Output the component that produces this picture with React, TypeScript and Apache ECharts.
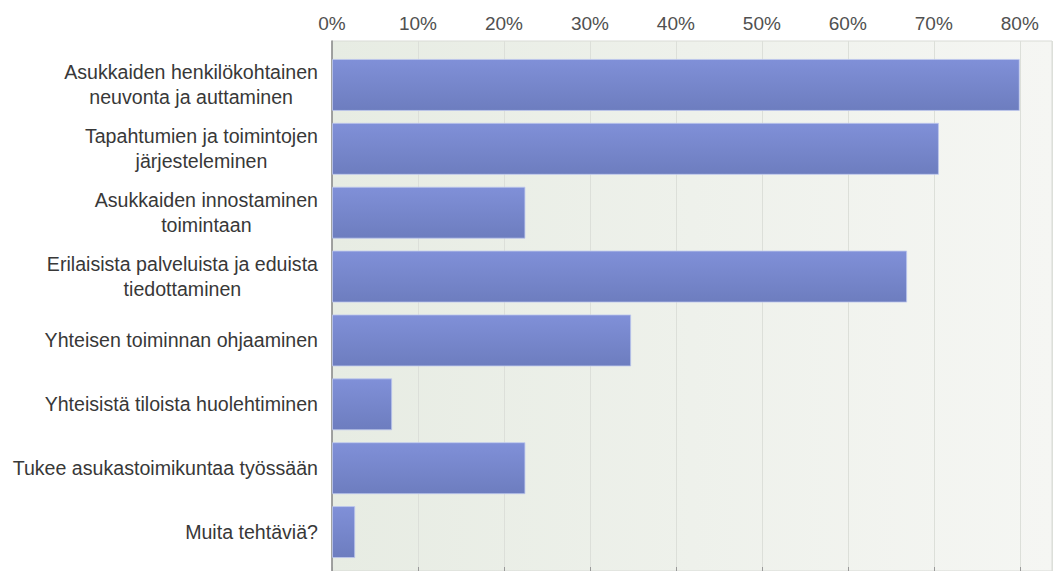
import React, { useEffect, useRef } from "react";
import * as echarts from "echarts";

const categories: string[] = [
  "Asukkaiden henkilökohtainen\nneuvonta ja auttaminen",
  "Tapahtumien ja toimintojen\njärjesteleminen",
  "Asukkaiden innostaminen\ntoimintaan",
  "Erilaisista palveluista ja eduista\ntiedottaminen",
  "Yhteisen toiminnan ohjaaminen",
  "Yhteisistä tiloista huolehtiminen",
  "Tukee asukastoimikuntaa työssään",
  "Muita tehtäviä?",
];
const values: number[] = [80.0, 70.6, 22.5, 66.9, 34.8, 7.0, 22.5, 2.7];
const axisMax = 83.75;
const axisInterval = 10;

const FONT = "'Liberation Sans', Arial, sans-serif";

export default function App() {
  const ref = useRef<HTMLDivElement>(null);
  useEffect(() => {
    if (!ref.current) return;
    const chart = echarts.init(ref.current, undefined, { renderer: "svg" });
    chart.setOption({
      animation: false,
      grid: [
        { left: 332, top: 53, width: 720, height: 511 },
        {
          left: 332,
          top: 41,
          width: 720,
          height: 545,
          show: true,
          borderColor: "#d9dbd6",
          borderWidth: 1,
          backgroundColor: {
            type: "linear",
            x: 0,
            y: 0,
            x2: 1,
            y2: 0,
            colorStops: [
              { offset: 0, color: "#e7ece3" },
              { offset: 1, color: "#f5f6f3" },
            ],
          },
        },
      ],
      xAxis: [
        { type: "value", gridIndex: 0, min: 0, max: axisMax, interval: axisInterval, show: false },
        {
          type: "value",
          gridIndex: 1,
          position: "top",
          min: 0,
          max: axisMax,
          interval: axisInterval,
          axisLine: { show: true, lineStyle: { color: "#999999", width: 1 } },
          axisTick: { show: true, length: 4, lineStyle: { color: "#999999" } },
          axisLabel: {
            showMaxLabel: false,
            formatter: "{value}%",
            color: "#505050",
            fontFamily: FONT,
            fontSize: 19,
            margin: 8,
          },
          splitLine: { show: true, lineStyle: { color: "#dcdfd9", width: 1 } },
        },
      ],
      yAxis: [
        {
          type: "category",
          gridIndex: 0,
          inverse: true,
          data: categories,
          axisLine: { show: false },
          axisTick: { show: false },
          axisLabel: {
            margin: 14,
            align: "right",
            color: "#383838",
            fontFamily: FONT,
            fontSize: 19.6,
            lineHeight: 25,
            formatter: (v: string) => v.split("\n").map((l) => `{c|${l}}`).join("\n"),
            rich: {
              c: { align: "center", fontFamily: FONT, fontSize: 19.6, lineHeight: 25, color: "#383838" },
            },
          },
        },
        {
          type: "value",
          gridIndex: 1,
          min: 0,
          max: 1,
          axisLine: { show: true, lineStyle: { color: "#888888", width: 1.5 } },
          axisTick: { show: false },
          axisLabel: { show: false },
          splitLine: { show: false },
        },
      ],
      series: [
        {
          type: "bar",
          xAxisIndex: 0,
          yAxisIndex: 0,
          data: values,
          barWidth: 52,
          z: 3,
          itemStyle: {
            color: {
              type: "linear",
              x: 0,
              y: 0,
              x2: 0,
              y2: 1,
              colorStops: [
                { offset: 0, color: "#8090d8" },
                { offset: 1, color: "#6d7dbf" },
              ],
            },
            borderColor: "rgba(190,200,238,0.8)",
            borderWidth: 1,
          },
        },
      ],
    });
    return () => chart.dispose();
  }, []);
  return (
    <div
      ref={ref}
      style={{ position: "fixed", left: 0, top: 0, width: 1055, height: 571, background: "#ffffff" }}
    />
  );
}
